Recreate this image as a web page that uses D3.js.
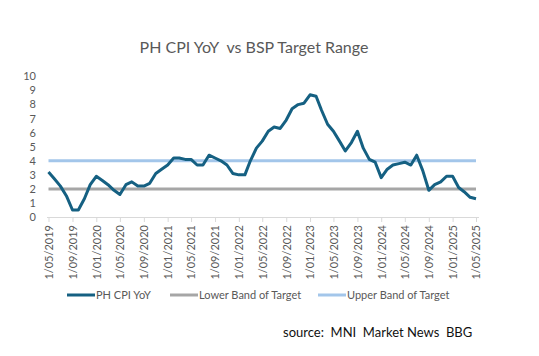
<!DOCTYPE html>
<html><head><meta charset="utf-8">
<script src="https://cdn.jsdelivr.net/npm/d3@7"></script>
<style>
html,body{margin:0;padding:0;background:#fff;}
svg{display:block;font-family:Lato,"Open Sans",sans-serif;}
text{white-space:pre;}
</style></head>
<body>
<script>
const startMonth = "2019-05";
const cpiYoY = [
  3.2, 2.7, 2.2, 1.5, 0.5, 0.5, 1.3, 2.3,
  2.9, 2.6, 2.3, 1.9, 1.6, 2.3, 2.5, 2.2, 2.2, 2.4, 3.1, 3.4,
  3.7, 4.2, 4.2, 4.1, 4.1, 3.7, 3.7, 4.4, 4.2, 4.0, 3.7, 3.1,
  3.0, 3.0, 4.0, 4.9, 5.4, 6.1, 6.4, 6.3, 6.9, 7.7, 8.0, 8.1,
  8.7, 8.6, 7.6, 6.6, 6.1, 5.4, 4.7, 5.3, 6.1, 4.9, 4.1, 3.9,
  2.8, 3.4, 3.7, 3.8, 3.9, 3.7, 4.4, 3.3, 1.9, 2.3, 2.5, 2.9,
  2.9, 2.1, 1.8, 1.4, 1.3
];
const lowerBand = 2;
const upperBand = 4;
const yTicks = [0,1,2,3,4,5,6,7,8,9,10];
const seriesNames = ["PH CPI YoY", "Lower Band of Target", "Upper Band of Target"];
const seriesColors = ["#156082", "#a6a6a6", "#a3c6ea"];
const titleText = "PH CPI YoY  vs BSP Target Range";
const sourceText = "source:  MNI  Market News  BBG";

const W = 539, H = 356;
const parse = d3.timeParse("%Y-%m");
const t0 = parse(startMonth);
const dates = cpiYoY.map((v,i) => d3.timeMonth.offset(t0, i));
const data = cpiYoY.map((v,i) => ({date: dates[i], value: v}));

const svg = d3.select("body").append("svg").attr("width", W).attr("height", H);

const x = d3.scaleTime().domain([dates[0], dates[dates.length-1]]).range([48.5, 476]);
const y = d3.scaleLinear().domain([0,10]).range([217, 76.5]);

// title
svg.append("text").attr("x", 254).attr("y", 53).attr("text-anchor","middle")
  .attr("fill","#595959").attr("font-size", 16).text(titleText);

// y labels
svg.append("g").selectAll("text").data(yTicks).join("text")
  .attr("x", 36).attr("y", d => y(d)).attr("dy","0.35em").attr("text-anchor","end")
  .attr("fill","#595959").attr("font-size", 11).text(d => d);

// x axis
const xAxis = d3.axisBottom(x).ticks(d3.timeMonth.every(4)).tickFormat(d3.timeFormat("%-d/%m/%Y")).tickSizeOuter(0).tickSize(5);
const gx = svg.append("g").attr("transform", `translate(0,${y(0)})`).call(xAxis);
gx.select(".domain").attr("stroke","#d9d9d9").attr("d", `M47,0.5H479`);
gx.selectAll(".tick line").attr("stroke","#d9d9d9");
gx.selectAll(".tick text").attr("fill","#595959").attr("font-size", 11)
  .attr("font-family","Lato,sans-serif")
  .attr("text-anchor","end").attr("transform","rotate(-90)")
  .attr("x", -8).attr("y", 0).attr("dy","0.35em");

// bands
const bandLine = d3.line().x(d => x(d.date)).y(d => y(d.value));
const ext = [dates[0], dates[dates.length-1]];
svg.append("path").datum(ext.map(d => ({date:d, value: lowerBand})))
  .attr("d", bandLine).attr("stroke", seriesColors[1]).attr("stroke-width", 3).attr("fill","none");
svg.append("path").datum(ext.map(d => ({date:d, value: upperBand})))
  .attr("d", bandLine).attr("stroke", seriesColors[2]).attr("stroke-width", 3).attr("fill","none");

// cpi
svg.append("path").datum(data).attr("d", d3.line().x(d => x(d.date)).y(d => y(d.value)))
  .attr("stroke", seriesColors[0]).attr("stroke-width", 3).attr("fill","none")
  .attr("stroke-linejoin","round");

// legend
const legX = [67, 170, 318];
const lg = svg.append("g").attr("transform","translate(0,295)");
seriesNames.forEach((n,i) => {
  lg.append("line").attr("x1", legX[i]).attr("x2", legX[i]+28).attr("y1",0).attr("y2",0)
    .attr("stroke", seriesColors[i]).attr("stroke-width", 3);
  lg.append("text").attr("x", legX[i]+29).attr("y", 0).attr("dy","0.35em")
    .attr("fill","#595959").attr("font-size", 11).text(n);
});

// source
svg.append("text").attr("x", 283).attr("y", 337).attr("fill","#111").attr("font-size", 13).text(sourceText);
</script>
</body></html>
